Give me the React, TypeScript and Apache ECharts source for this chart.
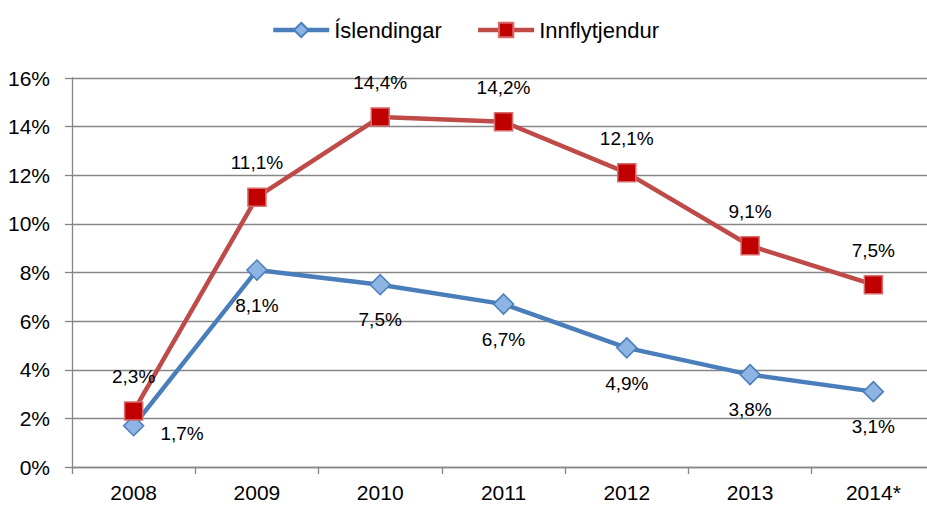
import React, { useEffect, useRef } from "react";
import * as echarts from "echarts";

const categories = ["2008", "2009", "2010", "2011", "2012", "2013", "2014*"];
const islendingar = [1.7, 8.1, 7.5, 6.7, 4.9, 3.8, 3.1];
const innflytjendur = [2.3, 11.1, 14.4, 14.2, 12.1, 9.1, 7.5];
const seriesNames = ["Íslendingar", "Innflytjendur"];

const FONT = "'Liberation Sans', Arial, sans-serif";
const fmt = (v: number) => v.toFixed(1).replace(".", ",") + "%";

export default function App() {
  const ref = useRef<HTMLDivElement>(null);
  useEffect(() => {
    if (!ref.current) return;
    const chart = echarts.init(ref.current, undefined, { renderer: "svg" });
    const labelStyle = {
      show: true,
      fontFamily: FONT,
      fontSize: 19,
      color: "#000",
      formatter: (p: any) => fmt(p.value),
    };
    chart.setOption({
      animation: false,
      backgroundColor: "#fff",
      legend: {
        left: 266,
        top: 14,
        itemWidth: 56,
        itemHeight: 18,
        itemGap: 34,
        lineStyle: { width: 4.5 },
        textStyle: { fontFamily: FONT, fontSize: 22, color: "#000" },
        data: seriesNames,
      },
      grid: {
        left: 72,
        right: -8,
        top: 78,
        bottom: 41,
        containLabel: false,
        outerBoundsMode: "none",
      },
      xAxis: {
        type: "category",
        data: categories,
        boundaryGap: true,
        axisLine: { lineStyle: { color: "#868686", width: 1.3 } },
        axisTick: { show: true, length: 7, lineStyle: { color: "#868686", width: 1.3 } },
        axisLabel: { fontFamily: FONT, fontSize: 21, color: "#000", margin: 15 },
        splitLine: { show: false },
      },
      yAxis: {
        type: "value",
        min: 0,
        max: 16,
        interval: 2,
        axisLine: { show: true, lineStyle: { color: "#868686", width: 1.3 } },
        axisTick: { show: true, length: 7, lineStyle: { color: "#868686", width: 1.3 } },
        axisLabel: {
          fontFamily: FONT,
          fontSize: 21,
          color: "#000",
          margin: 22,
          formatter: (v: number) => v + "%",
        },
        splitLine: { show: true, lineStyle: { color: "#868686", width: 1.3 } },
      },
      series: [
        {
          name: seriesNames[0],
          type: "line",
          data: islendingar.map((v, i) =>
            i === 0
              ? { value: v, label: { position: "right", distance: 16, offset: [0, 8] } }
              : v
          ),
          color: "#4A7EBB",
          lineStyle: { color: "#4A7EBB", width: 4.5 },
          symbol: "diamond",
          symbolSize: 20,
          itemStyle: { color: "#8EB4E3", borderColor: "#4A7EBB", borderWidth: 1.5 },
          label: { ...labelStyle, position: "bottom", distance: 15 },
        },
        {
          name: seriesNames[1],
          type: "line",
          data: innflytjendur,
          color: "#BE4B48",
          lineStyle: { color: "#BE4B48", width: 4.5 },
          symbol: "rect",
          symbolSize: 18,
          itemStyle: { color: "#C00000", borderColor: "#D86B69", borderWidth: 1.5 },
          label: { ...labelStyle, position: "top", distance: 15 },
        },
      ],
    });
    return () => chart.dispose();
  }, []);
  return (
    <div
      ref={ref}
      style={{ position: "fixed", left: 0, top: 0, width: 927, height: 508 }}
    />
  );
}
